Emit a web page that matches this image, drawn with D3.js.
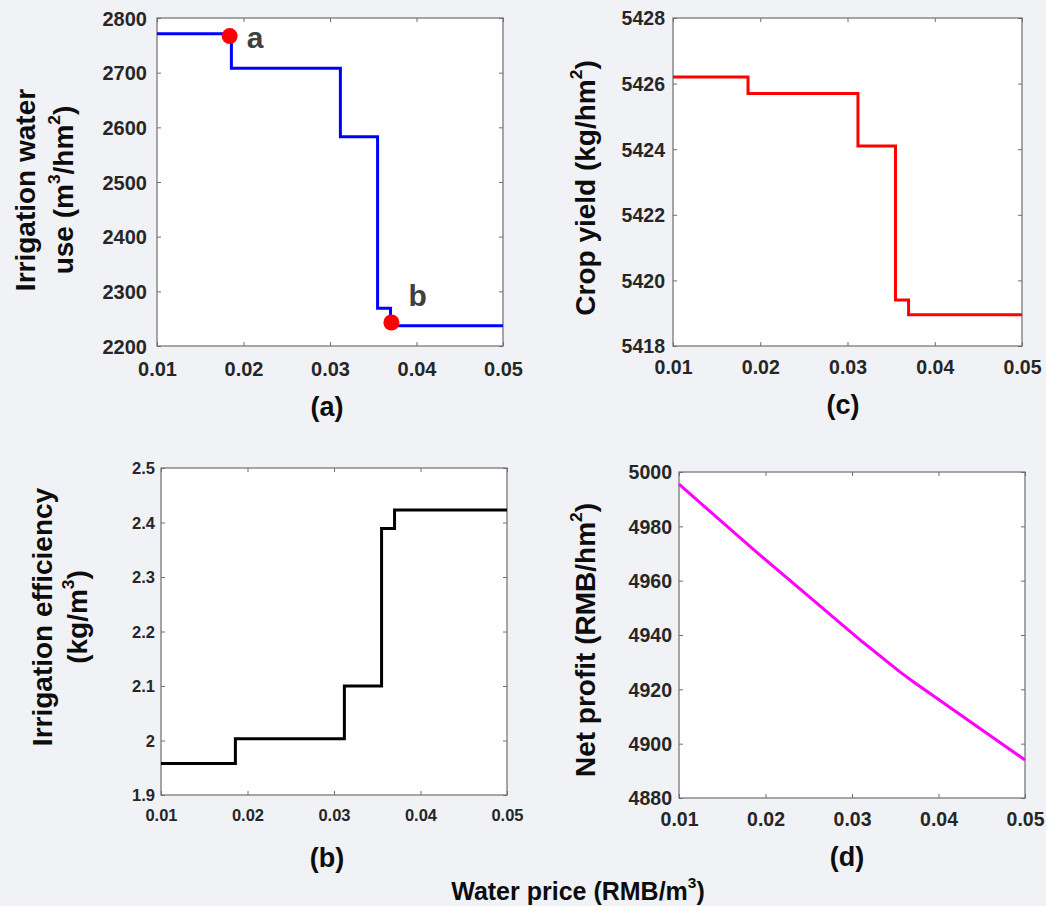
<!DOCTYPE html>
<html>
<head>
<meta charset="utf-8">
<script src="https://cdn.jsdelivr.net/npm/d3@7"></script>
<style>
  html, body { margin: 0; padding: 0; background: #f1f2f5; }
  svg { display: block; font-family: "Liberation Sans", Arial, sans-serif; font-weight: bold; }
</style>
</head>
<body>
<svg id="chart" width="1046" height="906"></svg>
<script>
// water price at which each step starts (last value closes the line)
var priceBreaks = [0.01, 0.0186, 0.0312, 0.0355, 0.0370, 0.05];
var waterUse    = [2771, 2708, 2583, 2269, 2237, 2237];
var cropYield   = [5426.2, 5425.7, 5424.1, 5419.4, 5418.95, 5418.95];
var irrEff      = [1.958, 2.003, 2.100, 2.389, 2.423, 2.423];

var profitPrice = [0.01, 0.0186, 0.0312, 0.0355, 0.0370, 0.05];
var netProfit   = [4995.5, 4971.5, 4937.5, 4926.5, 4923, 4894];

var markerPrice  = [0.0184, 0.0371];
var markerWater  = [2767, 2243];
var markerLabels = ["a", "b"];

var xTicks      = [0.01, 0.02, 0.03, 0.04, 0.05];
var waterTicks  = [2200, 2300, 2400, 2500, 2600, 2700, 2800];
var yieldTicks  = [5418, 5420, 5422, 5424, 5426, 5428];
var effTicks    = [1.9, 2.0, 2.1, 2.2, 2.3, 2.4, 2.5];
var profitTicks = [4880, 4900, 4920, 4940, 4960, 4980, 5000];

var svg = d3.select("#chart");

function zip(xs, ys) {
   return xs.map(function(x, i) { return [x, ys[i]]; });
}

// label lines: array of arrays of [text, isSuperscript]
function rotatedLabel(g, cx, cy, parts, size) {
   var t = g.append("text")
      .attr("transform", "translate(" + cx + "," + cy + ") rotate(-90)")
      .attr("text-anchor", "middle")
      .attr("dy", "0.35em")
      .attr("font-size", size)
      .attr("fill", "#0d0d0d");
   addParts(t, parts);
}

function addParts(t, parts) {
   var up = false;
   parts.forEach(function(p) {
      var s = t.append("tspan").text(p[0]);
      if (p[1]) {
         s.attr("font-size", "0.62em").attr("dy", "-0.75em");
         up = true;
      } else if (up) {
         s.attr("dy", "0.465em");
         up = false;
      }
   });
}

function drawPanel(o) {
   var g = svg.append("g");
   var x = d3.scaleLinear().domain([0.01, 0.05]).range([o.left, o.right]);
   var y = d3.scaleLinear().domain([o.yTicks[0], o.yTicks[o.yTicks.length - 1]]).range([o.bottom, o.top]);

   g.append("rect")
      .attr("x", o.left).attr("y", o.top)
      .attr("width", o.right - o.left).attr("height", o.bottom - o.top)
      .attr("fill", "#fff");

   var tick = 4;
   var axes = [
      [d3.axisBottom(x).tickValues(xTicks), "translate(0," + o.bottom + ")", true],
      [d3.axisTop(x).tickValues(xTicks), "translate(0," + o.top + ")", false],
      [d3.axisLeft(y).tickValues(o.yTicks), "translate(" + o.left + ",0)", true],
      [d3.axisRight(y).tickValues(o.yTicks), "translate(" + o.right + ",0)", false]
   ];
   axes.forEach(function(a, i) {
      var ax = a[0].tickSizeInner(-tick).tickSizeOuter(0).tickPadding(0);
      var ag = g.append("g").attr("transform", a[1]).call(ax);
      ag.select(".domain").remove();
      ag.selectAll(".tick line").attr("stroke", "#6e6e6e").attr("stroke-width", 1);
      if (!a[2]) { ag.selectAll("text").remove(); return; }
      ag.selectAll("text").attr("fill", "#262626").attr("font-size", o.tickSize)
        .attr("font-family", null);
      if (i === 0) {
         ag.selectAll("text").text(d3.format(".2f")).attr("y", o.xLabelDy).attr("dy", null);
      } else {
         ag.selectAll("text").text(function(d) { return +d.toFixed(2); })
           .attr("x", -o.yLabelGap).attr("dy", "0.35em");
      }
      ag.attr("font-family", null).attr("font-size", null);
   });

   g.append("rect")
      .attr("x", o.left).attr("y", o.top)
      .attr("width", o.right - o.left).attr("height", o.bottom - o.top)
      .attr("fill", "none").attr("stroke", "#6e6e6e").attr("stroke-width", 1.2);

   var line = d3.line()
      .x(function(d) { return x(d[0]); })
      .y(function(d) { return y(d[1]); })
      .curve(o.step ? d3.curveStepAfter : d3.curveLinear);

   g.append("path")
      .datum(zip(o.xs, o.ys))
      .attr("d", line)
      .attr("fill", "none")
      .attr("stroke", o.color)
      .attr("stroke-width", 3);

   o.labels.forEach(function(l) {
      rotatedLabel(g, l.x, o.labelY, l.parts, 28);
   });

   g.append("text")
      .attr("x", o.tagX).attr("y", o.tagY)
      .attr("text-anchor", "middle").attr("dy", "0.35em")
      .attr("font-size", 27).attr("fill", "#0d0d0d")
      .text(o.tag);

   return { g: g, x: x, y: y };
}

var pa = drawPanel({
   left: 157, right: 503, top: 18, bottom: 346,
   xs: priceBreaks, ys: waterUse, yTicks: waterTicks, step: true, color: "#0000ff",
   tickSize: 20, xLabelDy: 30, yLabelGap: 10,
   labelY: 190,
   labels: [
      { x: 25, parts: [["Irrigation water"]] },
      { x: 63, parts: [["use (m"], ["3", true], ["/hm"], ["2", true], [")"]] }
   ],
   tag: "(a)", tagX: 327, tagY: 407
});

// marked points a and b
var marks = zip(markerPrice, markerWater);
pa.g.selectAll(".mark").data(marks).enter()
   .append("circle")
   .attr("class", "mark")
   .attr("cx", function(d) { return pa.x(d[0]); })
   .attr("cy", function(d) { return pa.y(d[1]); })
   .attr("r", 8)
   .attr("fill", "#ff0000");

pa.g.selectAll(".mark-label").data(marks).enter()
   .append("text")
   .attr("class", "mark-label")
   .attr("x", function(d) { return pa.x(d[0]) + 17; })
   .attr("y", function(d, i) { return pa.y(d[1]) + (i === 0 ? 12 : -16); })
   .attr("font-size", 30)
   .attr("fill", "#404040")
   .text(function(d, i) { return markerLabels[i]; });

drawPanel({
   left: 673, right: 1022, top: 18, bottom: 346,
   xs: priceBreaks, ys: cropYield, yTicks: yieldTicks, step: true, color: "#ff0000",
   tickSize: 19.5, xLabelDy: 28, yLabelGap: 8,
   labelY: 188,
   labels: [
      { x: 585, parts: [["Crop yield (kg/hm"], ["2", true], [")"]] }
   ],
   tag: "(c)", tagX: 843, tagY: 405
});

drawPanel({
   left: 161, right: 507, top: 468, bottom: 795,
   xs: priceBreaks, ys: irrEff, yTicks: effTicks, step: true, color: "#000000",
   tickSize: 16.5, xLabelDy: 26, yLabelGap: 6,
   labelY: 617,
   labels: [
      { x: 42, parts: [["Irrigation efficiency"]] },
      { x: 77, parts: [["(kg/m"], ["3", true], [")"]] }
   ],
   tag: "(b)", tagX: 327, tagY: 858
});

drawPanel({
   left: 679, right: 1025, top: 472, bottom: 798,
   xs: profitPrice, ys: netProfit, yTicks: profitTicks, step: false, color: "#ff00ff",
   tickSize: 19.5, xLabelDy: 28, yLabelGap: 7,
   labelY: 640,
   labels: [
      { x: 585, parts: [["Net profit (RMB/hm"], ["2", true], [")"]] }
   ],
   tag: "(d)", tagX: 847, tagY: 857
});

var xt = svg.append("text")
   .attr("x", 578).attr("y", 891)
   .attr("text-anchor", "middle").attr("dy", "0.35em")
   .attr("font-size", 25).attr("fill", "#0d0d0d");
addParts(xt, [["Water price (RMB/m"], ["3", true], [")"]]);
</script>
</body>
</html>
